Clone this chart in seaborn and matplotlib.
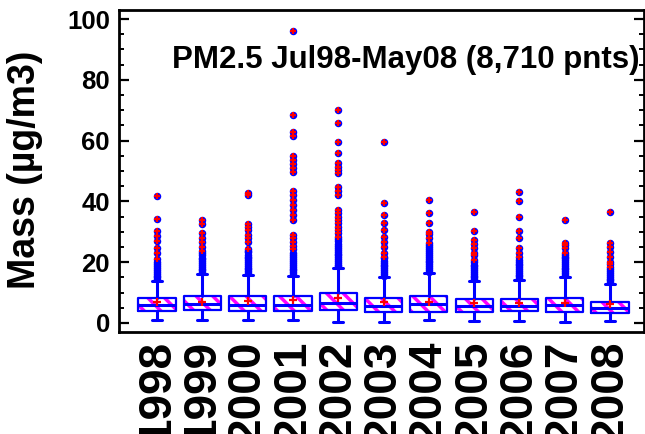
import matplotlib
matplotlib.use("Agg")
import pandas as pd
import matplotlib.pyplot as plt
from matplotlib.ticker import MultipleLocator
import seaborn as sns


years = ["1998", "1999", "2000", "2001", "2002", "2003",
         "2004", "2005", "2006", "2007", "2008"]

# box statistics (ug/m3)
q1 = [3.9, 4.1, 3.9, 3.9, 4.3, 3.6, 3.7, 3.6, 3.8, 3.5, 3.4]
median = [5.8, 6.1, 5.8, 6.0, 6.5, 5.6, 6.1, 5.5, 5.7, 5.8, 5.0]
q3 = [8.1, 9.0, 8.7, 8.9, 9.8, 8.3, 8.9, 7.9, 8.0, 8.3, 7.0]
means = [6.8, 7.0, 7.2, 7.7, 8.3, 6.8, 7.0, 6.5, 6.7, 6.5, 6.1]
whis_lo = [0.8, 0.8, 0.8, 0.8, 0.2, 0.4, 0.8, 0.5, 0.5, 0.3, 0.7]
whis_hi = [13.8, 16.1, 15.8, 15.5, 18.0, 15.0, 16.3, 13.8, 14.1, 15.2, 12.8]

# outliers in the dense blue smear just above each whisker
near_outliers = [
    [14.4, 15.0, 15.6, 16.2, 16.8, 17.4, 18.0, 18.6, 19.3, 20.1],
    [16.7, 17.3, 17.9, 18.5, 19.1, 19.7, 20.3, 20.9, 21.5, 22.2, 22.9],
    [16.4, 17.0, 17.6, 18.2, 18.8, 19.4, 20.0, 20.6, 21.2, 21.8, 22.5, 23.2, 23.8],
    [16.1, 16.7, 17.3, 17.9, 18.5, 19.1, 19.7, 20.3, 20.9, 21.6, 22.3, 22.9],
    [18.6, 19.2, 19.8, 20.4, 21.0, 21.6, 22.2, 22.8, 23.4, 24.0, 24.7, 25.4, 26.1, 26.8, 27.5],
    [15.6, 16.2, 16.8, 17.4, 18.0, 18.6, 19.2, 19.8, 20.5, 21.2],
    [16.9, 17.5, 18.1, 18.7, 19.3, 19.9, 20.5, 21.1, 21.7, 22.3, 23.0, 23.7, 24.4, 25.1, 25.7],
    [14.4, 15.0, 15.6, 16.2, 16.8, 17.4, 18.0, 18.6, 19.2, 19.9],
    [14.7, 15.3, 15.9, 16.5, 17.1, 17.7, 18.3, 18.9, 19.5, 20.1, 20.8],
    [15.8, 16.4, 17.0, 17.6, 18.2, 18.8, 19.4, 20.0, 20.6, 21.2, 21.8, 22.4],
    [13.4, 14.0, 14.6, 15.2, 15.8, 16.4, 17.0, 17.6],
]

# far outliers (blue dot + red cross)
far_outliers = [
    [21.1, 23.1, 24.8, 27.1, 28.6, 30.3, 34.1, 41.9],
    [23.8, 25.1, 26.6, 27.9, 29.5, 32.5, 33.9],
    [24.3, 26.5, 27.9, 28.9, 30.6, 31.7, 32.6, 42.1, 42.7],
    [24.2, 25.4, 26.7, 27.9, 28.9, 33.9, 35.5, 37.2, 38.8, 40.5, 42.1, 43.5,
     49.8, 50.9, 52.3, 53.6, 54.9, 61.5, 62.7, 68.3, 96.2],
    [28.2, 29.5, 30.6, 31.7, 32.8, 33.9, 35.0, 36.1, 37.2, 42.1, 43.5, 44.8,
     49.2, 50.3, 51.4, 52.5, 55.8, 59.6, 65.9, 70.1],
    [21.8, 23.1, 25.1, 26.7, 28.2, 30.6, 33.0, 35.5, 39.4, 59.6],
    [26.2, 27.9, 29.3, 30.0, 32.8, 36.2, 40.4],
    [20.7, 22.4, 23.1, 24.6, 26.0, 27.3, 30.3, 36.4],
    [21.8, 22.9, 24.6, 27.9, 30.3, 35.0, 40.1, 43.0],
    [23.1, 24.6, 25.7, 26.4, 33.8],
    [18.5, 19.4, 20.2, 21.8, 23.5, 24.9, 26.4, 36.6],
]

title = "PM2.5 Jul98-May08 (8,710 pnts)"


sns.set_style("ticks")
plt.rcParams["font.family"] = ["Liberation Sans", "DejaVu Sans"]
plt.rcParams["font.weight"] = "bold"
plt.rcParams["hatch.linewidth"] = 2.5
for key in ["text.color", "axes.labelcolor", "xtick.color", "ytick.color"]:
    plt.rcParams[key] = "black"

near_df = pd.DataFrame([(y, v) for y, vals in zip(years, near_outliers) for v in vals],
                       columns=["Year", "Mass"])
far_df = pd.DataFrame([(y, v) for y, vals in zip(years, far_outliers) for v in vals],
                      columns=["Year", "Mass"])
mean_df = pd.DataFrame({"Year": years, "Mass": means})

stats = []
for i in range(len(years)):
    stats.append(dict(label=years[i], q1=q1[i], med=median[i], q3=q3[i], mean=means[i],
                      whislo=whis_lo[i], whishi=whis_hi[i], fliers=[]))

fig, ax = plt.subplots(figsize=(6.45, 4.34), dpi=100)
fig.subplots_adjust(left=0.1845, right=0.9985, bottom=0.235, top=0.977)

pos = list(range(len(years)))

# hatched fill layer
ax.bxp(stats, positions=pos, widths=0.82, patch_artist=True, showcaps=False, showfliers=False,
       boxprops=dict(facecolor="white", edgecolor="magenta", linewidth=0, hatch="\\\\"),
       whiskerprops=dict(linestyle="none"), medianprops=dict(linestyle="none"),
       manage_ticks=False)
# blue outline layer
ax.bxp(stats, positions=pos, widths=0.82, capwidths=0.22, showfliers=False,
       boxprops=dict(color="blue", linewidth=1.6),
       whiskerprops=dict(color="blue", linewidth=2.2),
       capprops=dict(color="blue", linewidth=2.2),
       medianprops=dict(color="blue", linewidth=2.2),
       manage_ticks=False)

sns.stripplot(data=near_df, x="Year", y="Mass", order=years, jitter=False,
              color="blue", size=5.4, linewidth=0, ax=ax)
sns.stripplot(data=far_df, x="Year", y="Mass", order=years, jitter=False,
              color="blue", size=5.4, linewidth=0, ax=ax)
sns.stripplot(data=far_df, x="Year", y="Mass", order=years, jitter=False,
              color="red", marker="+", size=5, linewidth=1.6, ax=ax)
sns.stripplot(data=mean_df, x="Year", y="Mass", order=years, jitter=False,
              color="red", marker="+", size=6, linewidth=1.6, ax=ax)

ax.set_xlim(-0.84, 10.75)
ax.set_ylim(-3, 103)
ax.set_xticks(pos)
ax.set_xticklabels(years, rotation=90, fontsize=33, fontweight="bold")
ax.set_yticks([0, 20, 40, 60, 80, 100])
ax.yaxis.set_minor_locator(MultipleLocator(5))
for lab in ax.get_yticklabels():
    lab.set_fontsize(18.5)
    lab.set_fontweight("bold")

ax.tick_params(axis="x", length=0, pad=6)
ax.tick_params(axis="y", which="major", direction="in", length=7.5, width=1.6, pad=6.5,
               left=True, right=True)
ax.tick_params(axis="y", which="minor", direction="in", length=3.5, width=1.4,
               left=True, right=True)
for side in ["left", "right", "top", "bottom"]:
    ax.spines[side].set_visible(True)
    ax.spines[side].set_linewidth(2)
    ax.spines[side].set_color("black")

ax.set_xlabel("")
ax.set_ylabel("Mass (µg/m3)", fontsize=27, fontweight="bold")
ax.yaxis.set_label_coords(-0.145, 0.505)

ax.text(0.992, 0.845, title, transform=ax.transAxes, ha="right", va="center",
        fontsize=22.5, fontweight="bold")

plt.savefig("out.png", dpi=100)
